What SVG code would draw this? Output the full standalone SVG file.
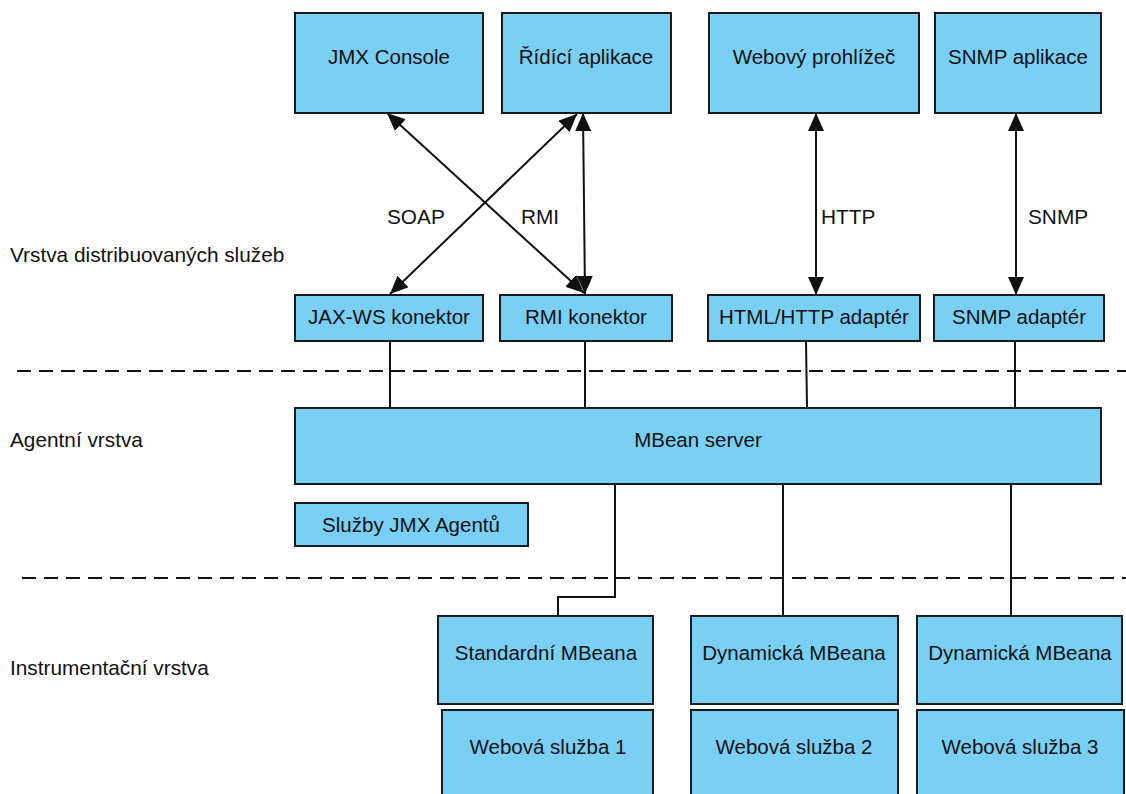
<svg xmlns="http://www.w3.org/2000/svg" width="1126" height="794" viewBox="0 0 1126 794">
<style>
.box{fill:#7ACFF5;stroke:#1a1a1a;stroke-width:2}
.t{font-family:"Liberation Sans",Arial,sans-serif;font-size:20.5px;fill:#111;text-anchor:middle}
.l{font-family:"Liberation Sans",Arial,sans-serif;font-size:20.8px;fill:#111}
.c{stroke:#111;stroke-width:2;fill:none}
.a{stroke:#111;stroke-width:2;fill:none;marker-start:url(#ah);marker-end:url(#ah)}
.d{stroke:#111;stroke-width:2;stroke-dasharray:14 8;fill:none}
</style>
<defs>
<marker id="ah" viewBox="0 0 18 16" refX="18" refY="8" markerWidth="18" markerHeight="16" markerUnits="userSpaceOnUse" orient="auto-start-reverse">
<path d="M0,0 L18,8 L0,16 Z" fill="#111"/>
</marker>
</defs>
<g id="layers">
<line class="d" x1="17" y1="371" x2="1126" y2="371"/>
<line class="d" x1="22" y1="578" x2="1126" y2="578"/>
<text class="l" x="10" y="262">Vrstva distribuovaných služeb</text>
<text class="l" x="10" y="447">Agentní vrstva</text>
<text class="l" x="10" y="675">Instrumentační vrstva</text>
</g>
<g id="connectors">
<line class="a" x1="387" y1="113" x2="584" y2="293"/>
<line class="a" x1="577" y1="114" x2="390" y2="294"/>
<line class="a" x1="583" y1="113" x2="585" y2="294"/>
<line class="a" x1="816" y1="113" x2="816" y2="295"/>
<line class="a" x1="1016" y1="113" x2="1016" y2="295"/>
<text class="l" x="387" y="224">SOAP</text>
<text class="l" x="521" y="224">RMI</text>
<text class="l" x="821" y="224">HTTP</text>
<text class="l" x="1028" y="224">SNMP</text>
<line class="c" x1="390" y1="341" x2="390" y2="408"/>
<line class="c" x1="585" y1="341" x2="585" y2="408"/>
<line class="c" x1="806" y1="341" x2="807" y2="408"/>
<line class="c" x1="1015" y1="341" x2="1015" y2="408"/>
<polyline class="c" points="615,484 615,597 558,597 558,616"/>
<line class="c" x1="783" y1="484" x2="783" y2="616"/>
<line class="c" x1="1011" y1="484" x2="1011" y2="616"/>
</g>
<g id="jmx-console"><rect class="box" x="295" y="13" width="188" height="100"/><text class="t" x="389" y="64">JMX Console</text></g>
<g id="ridici-aplikace"><rect class="box" x="502" y="13" width="169" height="100"/><text class="t" x="586" y="64">Řídící aplikace</text></g>
<g id="webovy-prohlizec"><rect class="box" x="709" y="13" width="210" height="100"/><text class="t" x="814" y="64">Webový prohlížeč</text></g>
<g id="snmp-aplikace"><rect class="box" x="935" y="13" width="166" height="100"/><text class="t" x="1018" y="64">SNMP aplikace</text></g>
<g id="jax-ws"><rect class="box" x="295" y="295" width="188" height="46"/><text class="t" x="389" y="324">JAX-WS konektor</text></g>
<g id="rmi-konektor"><rect class="box" x="500" y="295" width="172" height="46"/><text class="t" x="586" y="324">RMI konektor</text></g>
<g id="html-adapter"><rect class="box" x="708" y="295" width="212" height="46"/><text class="t" x="814" y="324">HTML/HTTP adaptér</text></g>
<g id="snmp-adapter"><rect class="box" x="934" y="295" width="170" height="46"/><text class="t" x="1019" y="324">SNMP adaptér</text></g>
<g id="mbean-server"><rect class="box" x="295" y="408" width="806" height="76"/><text class="t" x="698" y="447">MBean server</text></g>
<g id="sluzby-agentu"><rect class="box" x="295" y="503" width="233" height="43"/><text class="t" x="411" y="532">Služby JMX Agentů</text></g>
<g id="standardni"><rect class="box" x="438" y="616" width="215" height="88"/><text class="t" x="546" y="660">Standardní MBeana</text></g>
<g id="dynamicka1"><rect class="box" x="691" y="616" width="207" height="88"/><text class="t" x="794" y="660">Dynamická MBeana</text></g>
<g id="dynamicka2"><rect class="box" x="917" y="616" width="205" height="88"/><text class="t" x="1020" y="660">Dynamická MBeana</text></g>
<g id="webova1"><rect class="box" x="442" y="710" width="211" height="95"/><text class="t" x="548" y="754">Webová služba 1</text></g>
<g id="webova2"><rect class="box" x="691" y="710" width="207" height="95"/><text class="t" x="794" y="754">Webová služba 2</text></g>
<g id="webova3"><rect class="box" x="917" y="710" width="207" height="95"/><text class="t" x="1020" y="754">Webová služba 3</text></g>
</svg>
